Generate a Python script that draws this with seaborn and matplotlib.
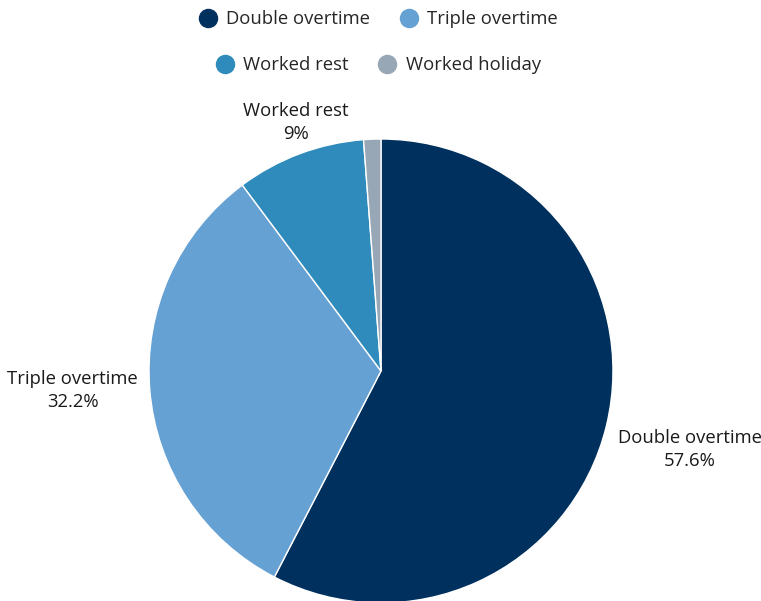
import numpy as np
import seaborn as sns
import matplotlib.pyplot as plt

categories = ['Double overtime', 'Triple overtime', 'Worked rest', 'Worked holiday']
shares = [57.6, 32.2, 9.0, 1.2]
pie_labels = ['Double overtime\n57.6%', 'Triple overtime\n32.2%', 'Worked rest\n9%', '']
colors = ['#00305e', '#66a1d3', '#2e8bbb', '#98a7b5']

sns.set_theme(style='white')
plt.rcParams['font.family'] = ['Open Sans', 'DejaVu Sans']
plt.rcParams['font.size'] = 13.3

fig = plt.figure(figsize=(7.61, 6.01), dpi=100)
ax = fig.add_axes([0.1958, -0.0033, 0.6097, 0.772])

wedges, texts = ax.pie(shares, labels=pie_labels, colors=colors, startangle=90,
                       counterclock=False, labeldistance=1.05,
                       wedgeprops=dict(edgecolor='white', linewidth=1),
                       textprops=dict(color='#1a1a1a', fontsize=13.3, linespacing=1.35))
ax.set_xlim(-1, 1)
ax.set_ylim(-1, 1)
ax.set_aspect('equal')

# place labels like the original: side labels aligned outward, top label above
for w, t in zip(wedges, texts):
    ang = np.deg2rad((w.theta1 + w.theta2) / 2)
    c, s = np.cos(ang), np.sin(ang)
    if c > 0.5:
        t.set_ha('left')
    elif c < -0.5:
        t.set_ha('right')
    else:
        t.set_ha('center')
    if s > 0.15:
        t.set_va('bottom')
    elif s < -0.15:
        t.set_va('top')
    else:
        t.set_va('center')
    t.set_multialignment('center')

def handles(idx):
    return [plt.Line2D([], [], marker='o', linestyle='', markersize=13,
                       markerfacecolor=colors[i], markeredgecolor=colors[i]) for i in idx]

# legend is two centred rows
leg_kw = dict(ncol=2, frameon=False, fontsize=13.3, handlelength=1.0,
              handletextpad=0.5, columnspacing=1.6, loc='center')
fig.legend(handles([0, 1]), categories[:2], bbox_to_anchor=(0.497, 1 - 19 / 601), **leg_kw)
fig.legend(handles([2, 3]), categories[2:], bbox_to_anchor=(0.497, 1 - 65 / 601), **leg_kw)

fig.savefig('out.png', dpi=100)
